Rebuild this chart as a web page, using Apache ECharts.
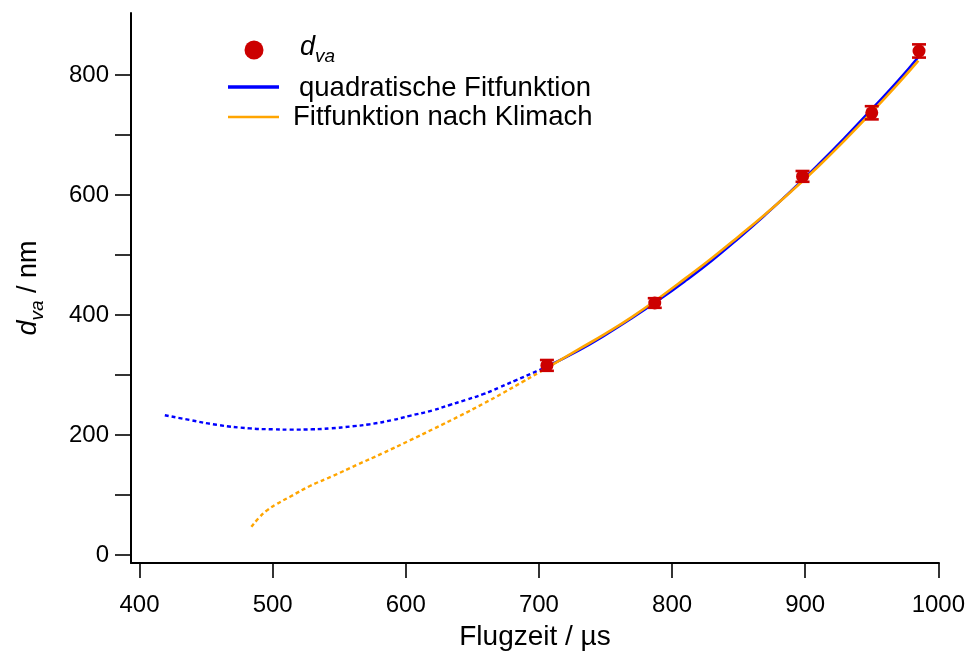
<!DOCTYPE html>
<html>
<head>
<meta charset="utf-8">
<script src="https://cdn.jsdelivr.net/npm/echarts@6/dist/echarts.min.js"></script>
<style>
  html, body { margin: 0; padding: 0; background: #ffffff; }
  #chart { width: 968px; height: 655px; }
</style>
</head>
<body>
<div id="chart"></div>
<script>
// Measured particle diameters vs. flight time
const flightTimes = [706, 787, 898, 950, 985.5];
const diameters = [316, 420, 631, 737, 840];
const diameterErrors = [9, 8, 9, 11, 11];

// Quadratic fit: extrapolated part (dotted) and fitted range (solid)
const quadExtX = [419, 438, 458, 483, 500, 513, 530, 543, 560, 573, 590, 603, 620, 633, 645, 658, 670, 683, 698, 707];
const quadExtY = [233, 225, 217, 211, 209.5, 209, 209.5, 211, 214.5, 218, 225, 232, 241, 250, 258.5, 268, 279, 291.5, 306, 315];
const quadFitX = [707, 730, 750, 770, 790, 810, 830, 850, 870, 890, 910, 930, 950, 970, 985];
const quadFitY = [315, 341, 367, 395, 425, 457, 491, 528, 567, 608, 651, 696, 743, 791, 830];

// Fit after Klimach: extrapolated part (dotted) and fitted range (solid)
const klimExtX = [484, 490.5, 495.5, 503, 513, 528, 545.5, 563, 583, 603, 620.6, 640.7, 658, 673, 688, 700.7, 707];
const klimExtY = [47, 64, 74, 85, 97, 115, 132, 150, 170, 191, 210, 232, 252, 270, 289, 305, 313];
const klimFitX = [707, 730, 750, 770, 790, 810, 830, 850, 870, 890, 910, 930, 950, 970, 985];
const klimFitY = [313, 343, 369, 397, 428, 461, 495, 531, 568, 607, 648, 692, 738, 786, 824];

// Axis ticks and labels
const xTickValues = [400, 500, 600, 700, 800, 900, 1000];
const yTickValues = [0, 100, 200, 300, 400, 500, 600, 700, 800];
const yLabelValues = [0, 200, 400, 600, 800];

// Legend and axis texts
const legendLabels = ['quadratische Fitfunktion', 'Fitfunktion nach Klimach'];
const xAxisTitle = 'Flugzeit / µs';

const FONT = '"Liberation Sans", Arial, Helvetica, sans-serif';
const RED = '#cc0000';
const BLUE = '#0000ff';
const ORANGE = '#ffa500';

function pairs(xs, ys) {
  return xs.map((x, i) => [x, ys[i]]);
}

const pointData = flightTimes.map((t, i) => [t, diameters[i], diameterErrors[i]]);

const chart = echarts.init(document.getElementById('chart'), null, { renderer: 'canvas' });

const subscriptRich = {
  d: { fontFamily: FONT, fontSize: 27, fontStyle: 'italic', color: '#000', verticalAlign: 'top' },
  s: { fontFamily: FONT, fontSize: 19, fontStyle: 'italic', color: '#000', verticalAlign: 'bottom' },
  n: { fontFamily: FONT, fontSize: 27, color: '#000', verticalAlign: 'top' }
};

const option = {
  backgroundColor: '#ffffff',
  animation: false,
  grid: { left: 131, right: 29, top: 13, bottom: 92, containLabel: false, outerBoundsMode: 'none' },
  xAxis: {
    type: 'value',
    min: 393.6,
    max: 1000.5,
    splitLine: { show: false },
    axisLine: { onZero: false, lineStyle: { color: '#000', width: 2 } },
    axisTick: { customValues: xTickValues, length: 15, lineStyle: { color: '#000', width: 1.6 } },
    axisLabel: {
      customValues: xTickValues, fontFamily: FONT, fontSize: 24, color: '#000', margin: 30,
      formatter: v => String(v)
    },
    name: xAxisTitle,
    nameLocation: 'middle',
    nameGap: 60,
    nameTextStyle: { fontFamily: FONT, fontSize: 28, color: '#000' }
  },
  yAxis: {
    type: 'value',
    min: -13.3,
    max: 903.3,
    splitLine: { show: false },
    axisLine: { onZero: false, lineStyle: { color: '#000', width: 2 } },
    axisTick: { customValues: yTickValues, length: 16, lineStyle: { color: '#000', width: 1.6 } },
    axisLabel: {
      customValues: yLabelValues, fontFamily: FONT, fontSize: 24, color: '#000', margin: 22,
      formatter: v => String(v)
    },
    name: '{d|d}{s|va}{n| / nm}',
    nameLocation: 'middle',
    nameRotate: 90,
    nameGap: 84,
    nameTextStyle: { lineHeight: 32, rich: subscriptRich }
  },
  series: [
    {
      name: 'quadExt', type: 'line', data: pairs(quadExtX, quadExtY),
      showSymbol: false, smooth: true, z: 2,
      lineStyle: { color: BLUE, width: 2.4, type: [4, 3] }
    },
    {
      name: 'klimExt', type: 'line', data: pairs(klimExtX, klimExtY),
      showSymbol: false, smooth: true, z: 2,
      lineStyle: { color: ORANGE, width: 2.4, type: [4, 3] }
    },
    {
      name: 'quadFit', type: 'line', data: pairs(quadFitX, quadFitY),
      showSymbol: false, smooth: true, z: 3,
      lineStyle: { color: BLUE, width: 2.6 }
    },
    {
      name: 'klimFit', type: 'line', data: pairs(klimFitX, klimFitY),
      showSymbol: false, smooth: true, z: 4,
      lineStyle: { color: ORANGE, width: 2.6 }
    },
    {
      name: 'errors', type: 'custom', data: pointData, z: 5,
      renderItem: function (params, api) {
        const x = api.value(0), y = api.value(1), e = api.value(2);
        const top = api.coord([x, y + e]);
        const bot = api.coord([x, y - e]);
        const hw = 7;
        const st = { stroke: RED, lineWidth: 2.6 };
        return {
          type: 'group',
          children: [
            { type: 'line', shape: { x1: top[0], y1: top[1], x2: bot[0], y2: bot[1] }, style: st },
            { type: 'line', shape: { x1: top[0] - hw, y1: top[1], x2: top[0] + hw, y2: top[1] }, style: st },
            { type: 'line', shape: { x1: bot[0] - hw, y1: bot[1], x2: bot[0] + hw, y2: bot[1] }, style: st }
          ]
        };
      }
    },
    {
      name: 'points', type: 'scatter', data: pointData, z: 6,
      symbol: 'circle', symbolSize: 13,
      itemStyle: { color: RED, opacity: 1 }
    }
  ],
  graphic: [
    { type: 'circle', shape: { cx: 254, cy: 50, r: 9.5 }, style: { fill: RED }, z: 10 },
    {
      type: 'text', left: 300, top: 34, z: 10,
      style: { text: '{d|d}{s|va}', lineHeight: 32, rich: subscriptRich }
    },
    { type: 'line', shape: { x1: 228, y1: 87, x2: 279, y2: 87 }, style: { stroke: BLUE, lineWidth: 3.5 }, z: 10 },
    {
      type: 'text', x: 299, y: 88, z: 10,
      style: { text: legendLabels[0], fontFamily: FONT, fontSize: 27.5, fill: '#000', verticalAlign: 'middle', align: 'left' }
    },
    { type: 'line', shape: { x1: 228, y1: 117, x2: 279, y2: 117 }, style: { stroke: ORANGE, lineWidth: 2.5 }, z: 10 },
    {
      type: 'text', x: 293, y: 117, z: 10,
      style: { text: legendLabels[1], fontFamily: FONT, fontSize: 27.5, fill: '#000', verticalAlign: 'middle', align: 'left' }
    }
  ]
};

chart.setOption(option);
</script>
</body>
</html>
